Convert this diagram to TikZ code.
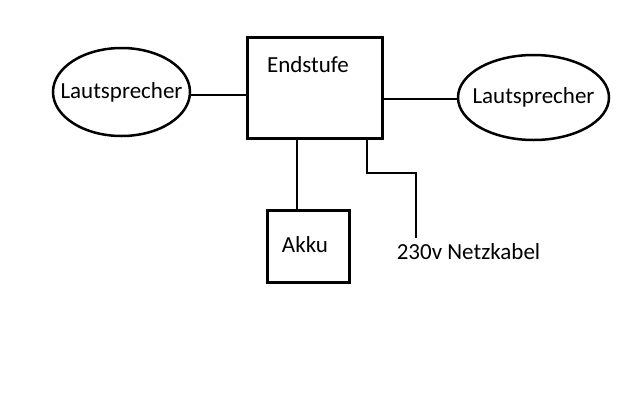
\documentclass[tikz,border=0pt]{standalone}
\usepackage{fontspec}
\setmainfont{Carlito}
\usetikzlibrary{shapes.geometric,positioning}

\begin{document}
\begin{tikzpicture}[
  x=1pt, y=-1pt,
  font=\fontsize{23}{27}\selectfont,
  box/.style={draw, line width=3pt, inner sep=0pt},
  speaker/.style={draw, ellipse, line width=2.5pt, inner sep=0pt},
  wire/.style={line width=2pt},
  lbl/.style={inner sep=0pt}
]
\useasboundingbox (0,0) rectangle (640,400);
\node[box, minimum width=135pt, minimum height=101pt] (endstufe) at (314.5,87.5) {};
\node[lbl] (endlbl) at (308,65) {Endstufe};
\node[speaker, minimum width=137pt, minimum height=88pt,
  label={[lbl]center:Lautsprecher}] (lsl) at (121.5,92) {};
\node[speaker, minimum width=151pt, minimum height=85pt,
  label={[lbl]center:Lautsprecher}] (lsr) at (533.5,97.5) {};
\node[box, minimum width=82pt, minimum height=72pt] (akku) at (308,246) {};
\node[lbl] (akkulbl) at (305,245) {Akku};
\node[lbl] (netz) at (468.5,252) {230v Netzkabel};
\coordinate (knick) at (416,173);
\coordinate (netzend) at (416,238);
% verbindungen
\draw[wire] (lsl.east |- 0,95) -- (endstufe.west |- 0,95);
\draw[wire] (endstufe.east |- 0,99) -- (lsr.west |- 0,99);
\draw[wire] (endstufe.south -| 297,0) -- (akku.north -| 297,0);
\draw[wire] (endstufe.south -| 367,0) |- (knick) -- (netzend);
\end{tikzpicture}
\end{document}
